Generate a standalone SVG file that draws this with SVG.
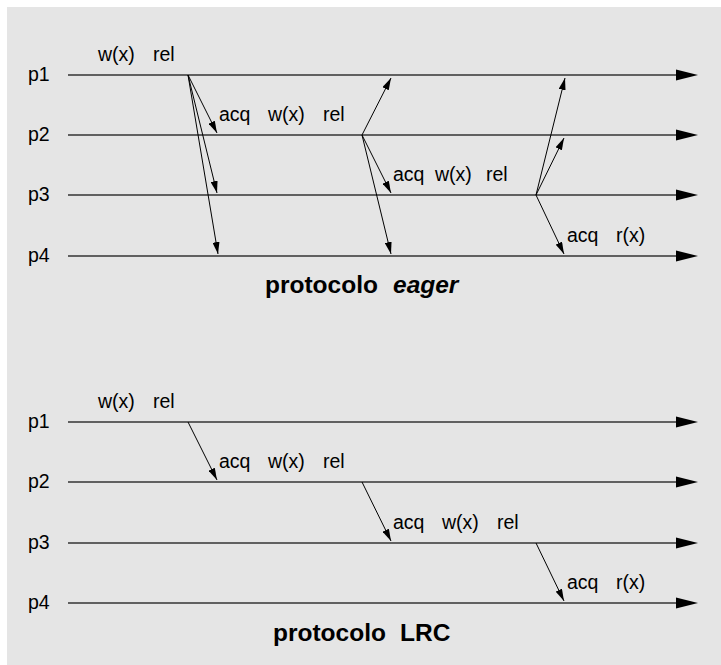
<svg xmlns="http://www.w3.org/2000/svg" width="721" height="665" viewBox="0 0 721 665">
  <style>
    .lbl { font-family: "Liberation Sans", Arial, sans-serif; font-size: 19.5px; fill: #000; }
    .title { font-family: "Liberation Sans", Arial, sans-serif; font-size: 24.5px; font-weight: bold; fill: #000; }
    .time { stroke: #333; stroke-width: 1.3; fill: none; marker-end: url(#timeHead); }
    .msg { stroke: #000; stroke-width: 1; fill: none; marker-end: url(#msgHead); }
  </style>
  <defs>
    <marker id="timeHead" markerUnits="userSpaceOnUse" viewBox="0 0 22 11" refX="0" refY="5.5" markerWidth="22" markerHeight="11" orient="auto" overflow="visible">
      <path d="M0,0 L22,5.5 L0,11 z" fill="#000"/>
    </marker>
    <marker id="msgHead" markerUnits="userSpaceOnUse" viewBox="0 0 12 7" refX="12" refY="3.5" markerWidth="12" markerHeight="7" orient="auto">
      <path d="M0,0 L12,3.5 L0,7 z" fill="#000"/>
    </marker>
  </defs>

  <!-- background panel -->
  <rect x="7" y="7" width="714" height="658" fill="#e5e5e5"/>

  <!-- ===== eager protocol ===== -->
  <g id="eager-p1">
    <text class="lbl" x="28" y="81">p1</text>
    <text class="lbl" y="61"><tspan x="98">w(x)</tspan><tspan x="153">rel</tspan></text>
  </g>
  <g id="eager-p2">
    <text class="lbl" x="28" y="141">p2</text>
    <text class="lbl" y="121"><tspan x="219">acq</tspan><tspan x="268">w(x)</tspan><tspan x="323">rel</tspan></text>
  </g>
  <g id="eager-p3">
    <text class="lbl" x="28" y="201">p3</text>
    <text class="lbl" y="181"><tspan x="393">acq</tspan><tspan x="435">w(x)</tspan><tspan x="486">rel</tspan></text>
  </g>
  <g id="eager-p4">
    <text class="lbl" x="28" y="262">p4</text>
    <text class="lbl" y="242"><tspan x="567">acq</tspan><tspan x="616">r(x)</tspan></text>
  </g>
  <g id="eager-title">
    <text class="title" x="265" y="293">protocolo <tspan x="393" font-style="italic">eager</tspan></text>
  </g>

  <g id="eager-connectors">
    <line class="time" x1="68" y1="75" x2="676" y2="75"/>
    <line class="time" x1="68" y1="135" x2="676" y2="135"/>
    <line class="time" x1="68" y1="195" x2="676" y2="195"/>
    <line class="time" x1="68" y1="256" x2="676" y2="256"/>
    <!-- p1 broadcasts -->
    <line class="msg" x1="188" y1="75" x2="217" y2="133"/>
    <line class="msg" x1="188" y1="75" x2="217" y2="193"/>
    <line class="msg" x1="188" y1="75" x2="218" y2="254"/>
    <!-- p2 broadcasts -->
    <line class="msg" x1="362" y1="135" x2="391" y2="78"/>
    <line class="msg" x1="362" y1="135" x2="391" y2="193"/>
    <line class="msg" x1="362" y1="135" x2="391" y2="254"/>
    <!-- p3 broadcasts -->
    <line class="msg" x1="536" y1="195" x2="565" y2="78"/>
    <line class="msg" x1="536" y1="195" x2="564" y2="138"/>
    <line class="msg" x1="536" y1="195" x2="564" y2="254"/>
  </g>

  <!-- ===== LRC protocol ===== -->
  <g id="lrc-p1">
    <text class="lbl" x="28" y="428">p1</text>
    <text class="lbl" y="408"><tspan x="98">w(x)</tspan><tspan x="153">rel</tspan></text>
  </g>
  <g id="lrc-p2">
    <text class="lbl" x="28" y="488">p2</text>
    <text class="lbl" y="468"><tspan x="219">acq</tspan><tspan x="268">w(x)</tspan><tspan x="323">rel</tspan></text>
  </g>
  <g id="lrc-p3">
    <text class="lbl" x="28" y="549">p3</text>
    <text class="lbl" y="529"><tspan x="393">acq</tspan><tspan x="442">w(x)</tspan><tspan x="497">rel</tspan></text>
  </g>
  <g id="lrc-p4">
    <text class="lbl" x="28" y="609">p4</text>
    <text class="lbl" y="589"><tspan x="567">acq</tspan><tspan x="616">r(x)</tspan></text>
  </g>
  <g id="lrc-title">
    <text class="title" x="273" y="641">protocolo <tspan x="400">LRC</tspan></text>
  </g>

  <g id="lrc-connectors">
    <line class="time" x1="68" y1="422" x2="676" y2="422"/>
    <line class="time" x1="68" y1="482" x2="676" y2="482"/>
    <line class="time" x1="68" y1="543" x2="676" y2="543"/>
    <line class="time" x1="68" y1="603" x2="676" y2="603"/>
    <line class="msg" x1="188" y1="422" x2="217" y2="480"/>
    <line class="msg" x1="362" y1="482" x2="391" y2="541"/>
    <line class="msg" x1="536" y1="543" x2="564" y2="601"/>
  </g>
</svg>
